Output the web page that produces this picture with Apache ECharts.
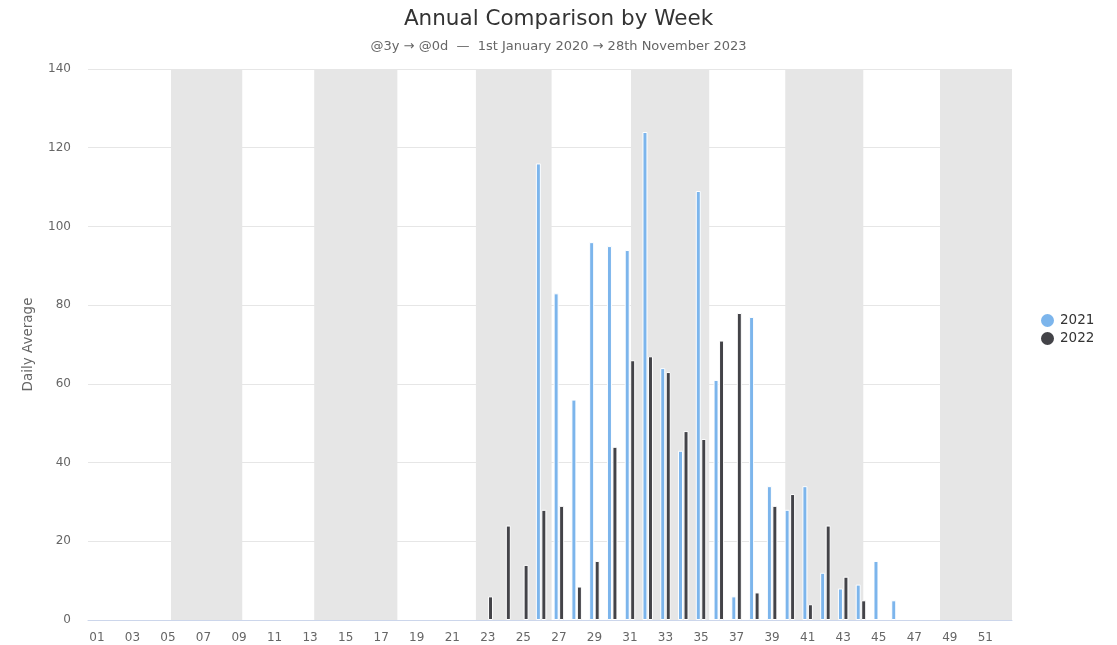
<!DOCTYPE html>
<html>
<head>
<meta charset="utf-8">
<script src="https://cdn.jsdelivr.net/npm/echarts@6/dist/echarts.min.js"></script>
<style>
html,body{margin:0;padding:0;background:#fff;}
#chart{width:1117px;height:645px;}
</style>
</head>
<body>
<div id="chart"></div>
<script>
// Week categories 01..52
const weeks = [];
for (let i = 1; i <= 52; i++) weeks.push(String(i).padStart(2, '0'));

// Daily averages by week (null = no data)
const series2021 = [null,null,null,null,null,null,null,null,null,null,null,null,null,null,null,null,null,null,null,null,null,null,
  null, null, null, 116, 83, 56, 96, 95, 94, 124, 64, 43, 109, 61, 6, 77, 34, 28, 34, 12, 8, 9, 15, 5,
  null,null,null,null,null,null];
const series2022 = [null,null,null,null,null,null,null,null,null,null,null,null,null,null,null,null,null,null,null,null,null,null,
  6, 24, 14, 28, 29, 8.5, 15, 44, 66, 67, 63, 48, 46, 71, 78, 7, 29, 32, 4, 24, 11, 5, null, null,
  null,null,null,null,null,null];

// Alternate-month shading, in week units along the year (0 = start of week 01, 52 = end of week 52)
const monthBands = [[4.67, 8.68], [12.73, 17.41], [21.83, 26.09], [30.56, 34.96], [39.24, 43.63], [47.95, 52]];

const yTicks = { min: 0, max: 140, interval: 20 };

const FONT = 'DejaVu Sans';
const chart = echarts.init(document.getElementById('chart'), null, { renderer: 'canvas' });
chart.setOption({
  backgroundColor: '#ffffff',
  animation: false,
  textStyle: { fontFamily: FONT },
  title: {
    text: 'Annual Comparison by Week',
    subtext: '@3y → @0d  —  1st January 2020 → 28th November 2023',
    left: 'center',
    top: 3,
    itemGap: 10,
    textStyle: { fontFamily: FONT, fontSize: 21.5, fontWeight: 'normal', color: '#333333' },
    subtextStyle: { fontFamily: FONT, fontSize: 13, color: '#666666' }
  },
  legend: {
    data: ['2021', '2022'],
    orient: 'vertical',
    left: 1034,
    top: 307,
    icon: 'circle',
    itemWidth: 15,
    itemHeight: 15,
    itemGap: 1,
    textStyle: { fontFamily: FONT, fontSize: 13.5, color: '#333333' }
  },
  grid: { left: 88, right: 105, top: 69, bottom: 25, containLabel: false },
  xAxis: [{
    type: 'category',
    data: weeks,
    boundaryGap: true,
    axisLine: { lineStyle: { color: '#ccd6eb' } },
    axisTick: { alignWithLabel: true, interval: 1, length: 10, lineStyle: { color: '#ccd6eb' } },
    axisLabel: { interval: 1, color: '#666666', fontSize: 12, margin: 12, fontFamily: FONT },
    splitLine: { show: false }
  }, {
    type: 'value',
    min: 0,
    max: 52,
    show: false
  }],
  yAxis: {
    type: 'value',
    min: yTicks.min,
    max: yTicks.max,
    interval: yTicks.interval,
    name: 'Daily Average',
    nameLocation: 'middle',
    nameGap: 53,
    nameRotate: 90,
    nameTextStyle: { color: '#666666', fontSize: 13.5, fontFamily: FONT },
    axisLine: { show: false },
    axisTick: { show: false },
    axisLabel: { color: '#666666', fontSize: 12, margin: 17, fontFamily: FONT },
    splitLine: { lineStyle: { color: '#e6e6e6', width: 1 } }
  },
  series: [
    {
      name: 'bands',
      type: 'line',
      xAxisIndex: 1,
      data: [],
      silent: true,
      z: 0,
      markArea: {
        silent: true,
        itemStyle: { color: '#e6e6e6' },
        data: monthBands.map(b => [{ xAxis: b[0] }, { xAxis: b[1] }])
      }
    },
    {
      name: '2021',
      type: 'bar',
      data: series2021,
      barWidth: 5,
      barGap: '10%',
      itemStyle: { color: '#7cb5ec', borderColor: '#ffffff', borderWidth: 1 },
      z: 3
    },
    {
      name: '2022',
      type: 'bar',
      data: series2022,
      barWidth: 5,
      barGap: '10%',
      itemStyle: { color: '#434348', borderColor: '#ffffff', borderWidth: 1 },
      z: 3
    }
  ]
});
</script>
</body>
</html>
